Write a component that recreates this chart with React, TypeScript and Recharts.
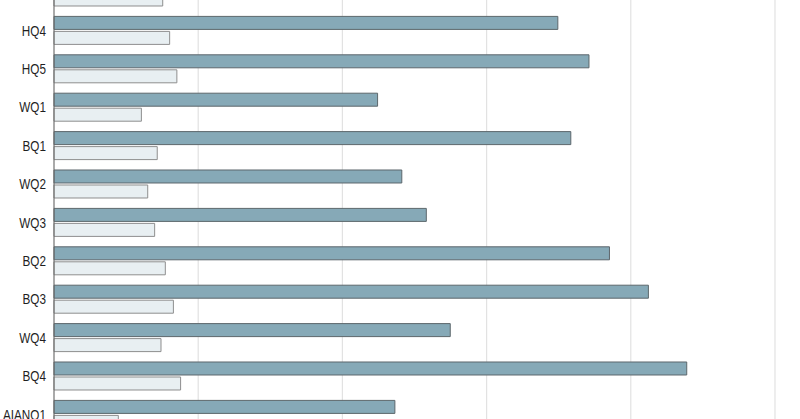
import { BarChart, Bar, XAxis, YAxis, CartesianGrid } from 'recharts';

// categories in view order; the first and last rows sit partly outside the frame
const categories = ['HQ3', 'HQ4', 'HQ5', 'WQ1', 'BQ1', 'WQ2', 'WQ3', 'BQ2', 'BQ3', 'WQ4', 'BQ4', 'AIANQ1'];
const primaryValues = [16.2, 17.47, 18.55, 11.22, 17.92, 12.06, 12.91, 19.26, 20.61, 13.74, 21.94, 11.82];
const secondaryValues = [3.77, 4.01, 4.26, 3.03, 3.58, 3.25, 3.49, 3.86, 4.14, 3.71, 4.39, 2.23];
const xTicks = [0, 5, 10, 15, 20, 25];

const data = categories.map((name, i) => ({
  name,
  primary: primaryValues[i],
  secondary: secondaryValues[i],
}));

const BAND = 38.4;
const PLOT_HEIGHT = BAND * categories.length;

// narrow-looking label: no condensed face installed, so squeeze horizontally
const NarrowTick = (props: any) => {
  const { x, y, payload } = props;
  return (
    <g transform={`translate(${x},${y}) scale(0.84,1)`}>
      <text textAnchor="end" dy="0.355em" fontSize={14} fill="#1f1f1f">
        {payload.value}
      </text>
    </g>
  );
};

const App = () => {
  return (
    <div
      style={{
        position: 'absolute',
        top: 0,
        left: 0,
        width: 800,
        height: 419,
        overflow: 'hidden',
        background: '#fff',
        fontFamily: '"Liberation Sans", sans-serif',
      }}
    >
      <div style={{ position: 'absolute', top: -26.6, left: 0 }}>
        <BarChart
          width={800}
          height={PLOT_HEIGHT}
          data={data}
          layout="vertical"
          margin={{ top: 0, right: 25, left: 0, bottom: 0 }}
          barCategoryGap={5}
          barGap={2}
        >
          <CartesianGrid horizontal={false} stroke="#e2e2e2" strokeWidth={1.2} />
          <XAxis type="number" domain={[0, 25]} ticks={xTicks} hide />
          <YAxis
            type="category"
            dataKey="name"
            width={54}
            tickLine={false}
            tickSize={0}
            tickMargin={8}
            axisLine={{ stroke: '#666', strokeWidth: 1 }}
            tick={<NarrowTick />}
            interval={0}
          />
          <Bar dataKey="primary" fill="#86a9b7" stroke="#5c666b" strokeWidth={1} isAnimationActive={false} />
          <Bar dataKey="secondary" fill="#e8eff2" stroke="#8e8e8e" strokeWidth={1} isAnimationActive={false} />
        </BarChart>
      </div>
    </div>
  );
};

export default App;
